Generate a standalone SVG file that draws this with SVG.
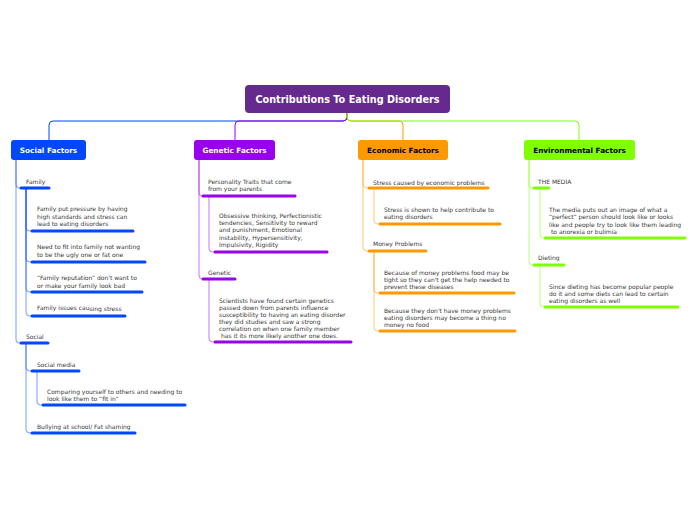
<svg xmlns="http://www.w3.org/2000/svg" width="696" height="520" viewBox="0 0 696 520">
<style>
.t{font-family:"DejaVu Sans",Verdana,sans-serif;font-size:6px;fill:#383838}
.bt{font-family:"DejaVu Sans",Verdana,sans-serif;font-size:7.3px;font-weight:bold}
.c{fill:none;stroke-width:1.2;stroke-opacity:0.45}
.u{fill:none;stroke-width:3;stroke-linecap:round}
.b{stroke:#0047ff}.p{stroke:#9900ee}.o{stroke:#ff9900}.g{stroke:#80ff00}
</style>
<rect width="696" height="520" fill="#fff"/>
<g id="connectors">
<path d="M347,113 V117 Q347,121 343,121 H53 Q49,121 49,125 V140" fill="none" stroke="#0047ff" stroke-width="1"/>
<path d="M347,113 V117 Q347,121 343,121 H239 Q235,121 235,125 V140" fill="none" stroke="#9900ee" stroke-width="1"/>
<path d="M347,113 V117 Q347,121 351,121 H399 Q403,121 403,125 V140" fill="none" stroke="#ff9900" stroke-width="1"/>
<path d="M347,113 V117 Q347,121 351,121 H575 Q579,121 579,125 V140" fill="none" stroke="#80ff00" stroke-width="1"/>
<!-- social -->
<path class="c b" d="M16,160 V184 Q16,188 20,188"/>
<path class="c b" d="M16,160 V339 Q16,343 20,343"/>
<path class="c b" d="M26,189 V227 Q26,231 31,231"/>
<path class="c b" d="M26,189 V258 Q26,262 31,262"/>
<path class="c b" d="M26,189 V288 Q26,292 31,292"/>
<path class="c b" d="M26,189 V312 Q26,316 31,316"/>
<path class="c b" d="M26,344 V367 Q26,371 31,371"/>
<path class="c b" d="M26,344 V429 Q26,433 31,433"/>
<path class="c b" d="M37,372 V401 Q37,405 42,405"/>
<!-- genetic -->
<path class="c p" d="M199,160 V192 Q199,196 203,196"/>
<path class="c p" d="M199,160 V275 Q199,279 203,279"/>
<path class="c p" d="M209,197 V248 Q209,252 214,252"/>
<path class="c p" d="M209,280 V338 Q209,342 214,342"/>
<!-- economic -->
<path class="c o" d="M363,160 V184 Q363,188 368,188"/>
<path class="c o" d="M363,160 V247 Q363,251 368,251"/>
<path class="c o" d="M374,189 V220 Q374,224 379,224"/>
<path class="c o" d="M374,252 V289 Q374,293 379,293"/>
<path class="c o" d="M374,252 V327 Q374,331 379,331"/>
<!-- environmental -->
<path class="c g" d="M529,160 V184 Q529,188 533,188"/>
<path class="c g" d="M529,160 V261 Q529,265 533,265"/>
<path class="c g" d="M540,189 V234 Q540,238 544,238"/>
<path class="c g" d="M540,266 V303 Q540,307 544,307"/>
</g>
<g id="root">
<rect x="245" y="85" width="205" height="28" rx="4" fill="#662a8e"/>
<text x="347.5" y="103" text-anchor="middle" font-family="'DejaVu Sans',Verdana,sans-serif" font-size="9.7" font-weight="bold" fill="#fff">Contributions To Eating Disorders</text>
</g>
<g id="social-factors">
<rect x="11" y="140" width="75" height="20" rx="3" fill="#0047ff"/>
<text class="bt" x="48.5" y="153" text-anchor="middle" fill="#fff">Social Factors</text>
</g>
<g id="genetic-factors">
<rect x="194" y="140" width="81" height="20" rx="3" fill="#9900ee"/>
<text class="bt" x="234.5" y="153" text-anchor="middle" fill="#fff">Genetic Factors</text>
</g>
<g id="economic-factors">
<rect x="358" y="140" width="90" height="20" rx="3" fill="#ff9900"/>
<text class="bt" x="403" y="153" text-anchor="middle" fill="#000">Economic Factors</text>
</g>
<g id="environmental-factors">
<rect x="524" y="140" width="111" height="20" rx="3" fill="#80ff00"/>
<text class="bt" x="579.5" y="153" text-anchor="middle" fill="#000">Environmental Factors</text>
</g>
<!-- Social subtree -->
<g id="family"><text class="t" x="26" y="184">Family</text><path class="u b" d="M21,188 H49"/></g>
<g id="family-pressure"><text class="t" x="37"><tspan x="37" y="211">Family put pressure by having</tspan><tspan x="37" y="218.5">high standards and stress can</tspan><tspan x="37" y="226">lead to eating disorders</tspan></text><path class="u b" d="M32,231 H133"/></g>
<g id="family-fit"><text class="t"><tspan x="37" y="249">Need to fit into family not wanting</tspan><tspan x="37" y="256.5">to be the ugly one or fat one</tspan></text><path class="u b" d="M32,262 H145"/></g>
<g id="family-reputation"><text class="t"><tspan x="37" y="280">“Family reputation” don't want to</tspan><tspan x="37" y="287.5">or make your family look bad</tspan></text><path class="u b" d="M32,292 H142"/></g>
<g id="family-issues"><text class="t" x="37" y="310">Family issues cau<tspan dy="1">sing stress</tspan></text><path class="u b" d="M32,316 H125"/></g>
<g id="social"><text class="t" x="26" y="338.5">Social</text><path class="u b" d="M21,343 H48"/></g>
<g id="social-media"><text class="t" x="37" y="366.5">Social media</text><path class="u b" d="M32,371 H79"/></g>
<g id="comparing"><text class="t"><tspan x="47" y="393.5">Comparing yourself to others and needing to</tspan><tspan x="47" y="400.5">look like them to “fit in”</tspan></text><path class="u b" d="M43,405 H185"/></g>
<g id="bullying"><text class="t" x="37" y="428.5">Bullying at school/ Fat shaming</text><path class="u b" d="M32,433 H135"/></g>
<!-- Genetic subtree -->
<g id="personality"><text class="t"><tspan x="208" y="183.5">Personality Traits that come</tspan><tspan x="208" y="190.5">from your parents</tspan></text><path class="u p" d="M203,196 H295"/></g>
<g id="obsessive"><text class="t"><tspan x="219" y="218">Obsessive thinking, Perfectionistic</tspan><tspan x="219" y="225.2">tendencies, Sensitivity to reward</tspan><tspan x="219" y="232.4">and punishment, Emotional</tspan><tspan x="219" y="239.6">instability, Hypersensitivity,</tspan><tspan x="219" y="246.8">Impulsivity, Rigidity</tspan></text><path class="u p" d="M215,252 H327"/></g>
<g id="genetic"><text class="t" x="208" y="274.5">Genetic</text><path class="u p" d="M203,279 H235"/></g>
<g id="scientists"><text class="t"><tspan x="219" y="302.5">Scientists have found certain genetics</tspan><tspan x="219" y="309.5">passed down from parents influence</tspan><tspan x="219" y="316.5">susceptibility to having an eating disorder</tspan><tspan x="219" y="323.5">they did studies and saw a strong</tspan><tspan x="219" y="330.5">correlation on when one family member</tspan><tspan x="221" y="337.5">has it its more likely another one does.</tspan></text><path class="u p" d="M215,342 H351"/></g>
<!-- Economic subtree -->
<g id="stress-caused"><text class="t" x="373" y="184.5">Stress caused by economic problems</text><path class="u o" d="M369,188 H488"/></g>
<g id="stress-shown"><text class="t"><tspan x="384" y="212">Stress is shown to help contribute to</tspan><tspan x="384" y="219">eating disorders</tspan></text><path class="u o" d="M380,224 H500"/></g>
<g id="money-problems"><text class="t" x="373" y="246">Money Problems</text><path class="u o" d="M369,251 H426"/></g>
<g id="money-food"><text class="t"><tspan x="384" y="274.5">Because of money problems food may be</tspan><tspan x="384" y="281.5">tight so they can't get the help needed to</tspan><tspan x="384" y="288.5">prevent these diseases</tspan></text><path class="u o" d="M380,293 H514"/></g>
<g id="money-none"><text class="t"><tspan x="384" y="312.5">Because they don't have money problems</tspan><tspan x="384" y="319.5">eating disorders may become a thing no</tspan><tspan x="384" y="326.5">money no food</tspan></text><path class="u o" d="M380,331 H515"/></g>
<!-- Environmental subtree -->
<g id="the-media"><text class="t" x="538" y="184">THE MEDIA</text><path class="u g" d="M534,188 H549"/></g>
<g id="media-image"><text class="t"><tspan x="549" y="212">The media puts out an image of what a</tspan><tspan x="549" y="219">“perfect” person should look like or looks</tspan><tspan x="549" y="226.5">like and people try to look like them leading</tspan><tspan x="551" y="233.5">to anorexia or bulimia</tspan></text><path class="u g" d="M545,238 H685"/></g>
<g id="dieting"><text class="t" x="538" y="259.5">Dieting</text><path class="u g" d="M534,265 H564"/></g>
<g id="dieting-popular"><text class="t"><tspan x="549" y="288.5">Since dieting has become popular people</tspan><tspan x="549" y="295.5">do it and some diets can lead to certain</tspan><tspan x="549" y="302.5">eating disorders as well</tspan></text><path class="u g" d="M545,307 H678"/></g>
</svg>
